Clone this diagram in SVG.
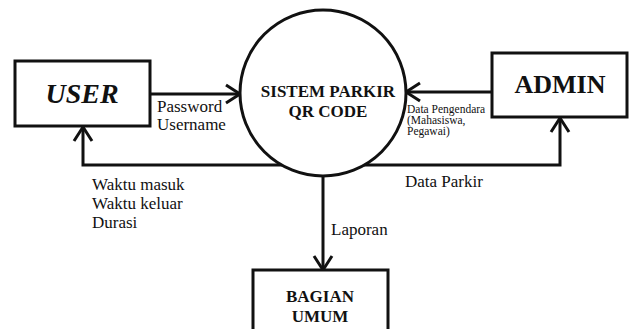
<svg xmlns="http://www.w3.org/2000/svg" width="634" height="329" viewBox="0 0 634 329">
<defs>
<marker id="arr" markerUnits="userSpaceOnUse" markerWidth="30" markerHeight="30" viewBox="-20 -15 30 30" refX="0" refY="0" orient="auto">
<path d="M-14,-9 L0,0 L-14,9" fill="none" stroke="#111" stroke-width="3"/>
</marker>
</defs>
<style>
.box{fill:#fff;stroke:#111;stroke-width:3}
.ln{fill:none;stroke:#111;stroke-width:3;marker-end:url(#arr)}
.lbl{font-size:17px}
.sm{font-size:11.5px}
.b{font-weight:bold}
</style>
<rect width="634" height="329" fill="#fff"/>
<g font-family="Liberation Serif, DejaVu Serif, serif" fill="#111">
<g id="connectors">
<path class="ln" d="M150,94 L240,94"/>
<path class="ln" d="M492,92 L406,92"/>
<path class="ln" d="M282,165 L83,165 L83,127"/>
<path class="ln" d="M364,165 L560,165 L560,118"/>
<path class="ln" d="M323,176 L323,270"/>
<text class="lbl" x="157" y="112">Password</text>
<text class="lbl" x="157" y="130">Username</text>
<text class="sm" x="407" y="113">Data Pengendara</text>
<text class="sm" x="407" y="124">(Mahasiswa,</text>
<text class="sm" x="407" y="135">Pegawai)</text>
<text class="lbl" x="92" y="190">Waktu masuk</text>
<text class="lbl" x="92" y="209">Waktu keluar</text>
<text class="lbl" x="92" y="228">Durasi</text>
<text class="lbl" x="405" y="187">Data Parkir</text>
<text class="lbl" x="331" y="235">Laporan</text>
</g>
<g id="user">
<rect class="box" x="15" y="61" width="135" height="65"/>
<text x="82" y="103" text-anchor="middle" font-size="28" font-weight="bold" font-style="italic">USER</text>
</g>
<g id="sistem">
<circle cx="323" cy="93" r="83" fill="#fff" stroke="#111" stroke-width="3"/>
<text class="b" x="328" y="97" text-anchor="middle" font-size="17">SISTEM PARKIR</text>
<text class="b" x="328" y="117" text-anchor="middle" font-size="17">QR CODE</text>
</g>
<g id="admin">
<rect class="box" x="492" y="53" width="135" height="64"/>
<text class="b" x="560" y="93" text-anchor="middle" font-size="26">ADMIN</text>
</g>
<g id="bagian">
<rect class="box" x="253" y="270" width="135" height="70"/>
<text class="b" x="320" y="302" text-anchor="middle" font-size="17">BAGIAN</text>
<text class="b" x="320" y="322" text-anchor="middle" font-size="17">UMUM</text>
</g>
</g>
</svg>
